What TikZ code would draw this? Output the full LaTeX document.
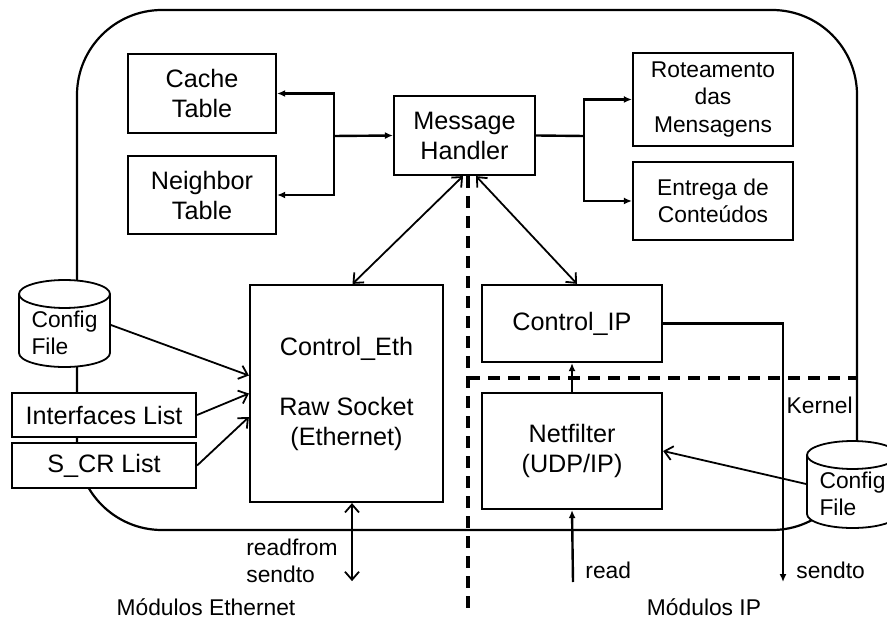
\documentclass[tikz,border=0pt]{standalone}
\usepackage{fontspec}
\setmainfont{Liberation Sans}
\usetikzlibrary{shapes.geometric,arrows.meta}

\newcommand{\boxfont}{\fontsize{12.6}{15}\selectfont}
\newcommand{\notefont}{\fontsize{11.4}{13.75}\selectfont}

\begin{document}
\begin{tikzpicture}[x=0.5pt, y=-0.5pt,
	box/.style={draw, line width=1.1pt, fill=white, align=center, inner sep=1pt, font=\boxfont},
	smallbox/.style={box, font=\notefont},
	store/.style={cylinder, shape border rotate=90, aspect=0.4, draw, line width=0.9pt, fill=white, align=left, inner sep=1pt, font=\notefont, minimum width=45.5pt, minimum height=33.5pt},
	note/.style={inner sep=0pt, font=\notefont},
	link/.style={line width=1.2pt, -{Latex[length=4pt,width=3.5pt]}},
	flow/.style={line width=0.9pt, {Straight Barb[length=4pt,width=7pt]}-{Straight Barb[length=4pt,width=7pt]}},
	feed/.style={line width=0.9pt, -{Straight Barb[length=4pt,width=7pt]}},
	divider/.style={line width=1.6pt, dash pattern=on 6pt off 4pt}]
\clip (0,0) rectangle (887,619);
\draw[line width=1.1pt, rounded corners=42.5pt] (77,10) rectangle (857,530);

\node[box, minimum width=74pt, minimum height=39.5pt] (cache) at (202,93.5) {Cache\\Table};
\node[box, minimum width=74pt, minimum height=39pt] (neighbor) at (202,195) {Neighbor\\Table};
\node[box, minimum width=70.5pt, minimum height=39.5pt] (handler) at (464.5,135.5) {Message\\Handler};
\node[smallbox, minimum width=80pt, minimum height=46.5pt] (route) at (713,99.5) {Roteamento\\das\\Mensagens};
\node[smallbox, minimum width=80pt, minimum height=39pt] (deliver) at (713,201) {Entrega de\\Conteúdos};
\node[box, minimum width=96.5pt, minimum height=108.5pt] (eth) at (346.5,393.5) {Control\_Eth\\[15pt]Raw Socket\\(Ethernet)};
\node[box, minimum width=90pt, minimum height=38.5pt] (ctrlip) at (572,323.5) {Control\_IP};
\node[box, minimum width=90pt, minimum height=58pt] (netfilter) at (572,451) {Netfilter\\(UDP/IP)};
\node[store] (cfgeth) at (64.5,333) {Config\\File};
\node[box, minimum width=92pt, minimum height=22pt] (iflist) at (104,415) {Interfaces List};
\node[box, minimum width=92pt, minimum height=22.5pt] (scrlist) at (104,465.5) {S\_CR List};
\node[store, minimum height=32pt] (cfgip) at (852.5,494) {Config\\File};

\coordinate (jl) at (334,136);
\coordinate (jr) at (584,136);
\draw[link] (jl) -- (handler.west);
\draw[link] (jl) |- (cache.east);
\draw[link] (jl) |- (neighbor.east);
\draw[line width=1.2pt] (handler.east) -- (jr);
\draw[link] (jr) |- (route.west);
\draw[link] (jr) |- (deliver.west);

\draw[flow] ([xshift=-0.75pt]handler.south) -- ([xshift=3pt]eth.north);
\draw[flow] ([xshift=5.75pt]handler.south) -- ([xshift=2.5pt]ctrlip.north);
\draw[feed] ([yshift=4pt]cfgeth.east) -- ([yshift=9pt]eth.west);
\draw[feed] (iflist.east) -- (eth.west);
\draw[feed] (scrlist.east) -- ([yshift=-11.75pt]eth.west);
\draw[feed] ([yshift=5pt]cfgip.west) -- (netfilter.east);
\draw[link, line width=0.9pt] (netfilter.north) -- (ctrlip.south);

\coordinate (ethio) at ([xshift=2.75pt,yshift=-39pt]eth.south);
\coordinate (readin) at (573,582);
\coordinate (sendout) at (783,582);
\draw[flow] ([xshift=2.75pt]eth.south) -- (ethio);
\draw[link] (readin) -- (netfilter.south);
\draw[link] (ctrlip.east) -| (sendout);

\coordinate (divtop) at (468,176);
\coordinate (divbot) at (468,612);
\coordinate (kernr) at (857,378);
\draw[divider] (divtop) -- (divbot);
\draw[divider] (divtop |- kernr) -- (kernr);

\node[note, align=left, anchor=west] (rwlbl) at (246,561) {readfrom\\sendto};
\node[note, anchor=west] (readlbl) at (585,570) {read};
\node[note, anchor=west] (sendlbl) at (796,570) {sendto};
\node[note, anchor=east] (kernlbl) at (853,405) {Kernel};
\node[note] (ethmod) at (206,607) {Módulos Ethernet};
\node[note] (ipmod) at (704,607) {Módulos IP};
\end{tikzpicture}
\end{document}
